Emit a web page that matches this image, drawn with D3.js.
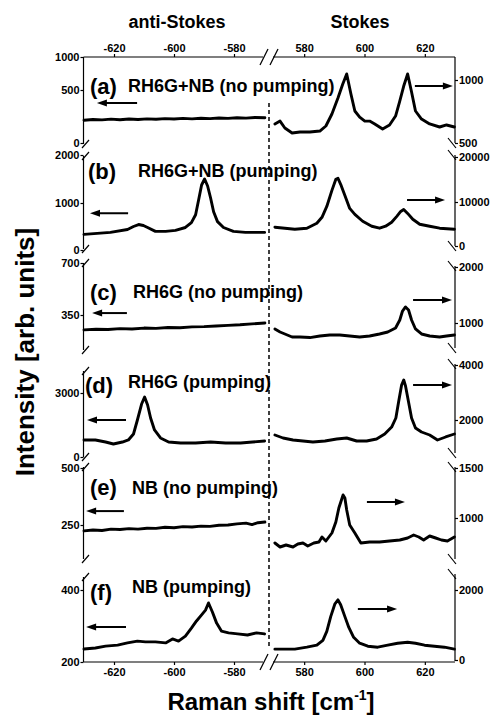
<!DOCTYPE html>
<html><head><meta charset="utf-8">
<script src="https://cdn.jsdelivr.net/npm/d3@7"></script>
<style>body{margin:0;background:#fff}svg{display:block}</style>
</head><body>
<svg id="chart" width="492" height="716"></svg>
<script>
// ---------------- data ----------------
const panelTags = ["(a)","(b)","(c)","(d)","(e)","(f)"];
const panelTitles = ["RH6G+NB (no pumping)","RH6G+NB (pumping)","RH6G (no pumping)","RH6G (pumping)","NB (no pumping)","NB (pumping)"];
const antiStokesTicks = [-620,-600,-580];
const stokesTicks = [580,600,620];
const leftTicks = [[0,500,1000],[0,1000,2000],[350,700],[0,3000],[250,500],[200,400]];
const rightTicks = [[500,1000],[0,10000,20000],[1000,2000],[2000,4000],[1000,1500],[0,2000]];

const antiA = [[-630,215],[-627,222],[-624,218],[-621,225],[-618,220],[-615,226],[-612,222],[-609,228],[-606,224],[-603,230],[-600,226],[-597,232],[-594,228],[-591,233],[-588,230],[-585,236],[-582,232],[-579,238],[-576,235],[-573,240],[-569.7,238]];
const stokesA = [[570.3,651],[572,674],[573.6,619],[576,579],[578.6,587],[581.9,587],[585.2,595],[587.2,635],[589.2,730],[591.2,857],[592.8,968],[594.1,1048],[595.5,889],[596.8,754],[598.4,706],[600.1,674],[601.7,674],[603.4,651],[606,611],[608.3,643],[610.3,714],[611.6,825],[613,952],[614.3,1048],[615.6,905],[616.9,754],[618.9,690],[621.6,651],[624.9,627],[627.2,643],[629.8,627]];

const antiB = [[-630,333],[-621.2,375],[-615.5,437],[-613.5,500],[-611.8,542],[-610.2,521],[-608.8,479],[-606.2,396],[-602.8,396],[-599.5,417],[-596.2,479],[-594.2,583],[-592.8,750],[-591.8,1063],[-590.8,1375],[-589.8,1500],[-588.8,1354],[-587.8,1104],[-586.8,813],[-585.5,604],[-583.5,479],[-580.2,396],[-576.2,375],[-572.8,375],[-569.8,375]];
const stokesB = [[570.3,4270],[573.6,4045],[576.9,3820],[580.9,4045],[584.2,5170],[585.9,6520],[587.5,8990],[589.2,12580],[590.5,15050],[591.2,15280],[592.1,13930],[593.5,11460],[595.1,8540],[596.8,7190],[599.4,5620],[602.4,4490],[605,4045],[607,4490],[609,5390],[610.7,6740],[612,7860],[613,8310],[614.3,7410],[616,6070],[618.3,4940],[621.6,4490],[624.9,4045],[629.8,3820]];

const antiC = [[-630,250],[-626,254],[-622,252],[-618,258],[-614,256],[-610,262],[-606,260],[-602,266],[-598,264],[-594,270],[-590,272],[-586,276],[-582,280],[-578,284],[-574,290],[-569.7,296]];
const stokesC = [[570.3,893],[572,839],[573.6,804],[576,750],[578.6,750],[581.9,740],[585.2,768],[588.5,786],[591.8,786],[595.1,768],[598.4,750],[601.7,768],[605,804],[607.7,839],[610.3,911],[611.7,1054],[612.6,1214],[613.6,1286],[614.6,1232],[615.6,1054],[616.9,893],[618.9,804],[621.6,768],[624.9,750],[627.2,768],[629.8,786]];

const antiD = [[-630,797],[-626.2,797],[-622.8,703],[-620.2,609],[-617.2,703],[-615.2,797],[-613.5,1078],[-612.2,1734],[-610.8,2484],[-609.8,2813],[-608.8,2438],[-607.8,1828],[-606.5,1266],[-604.5,891],[-601.8,703],[-597.8,656],[-592.8,656],[-587.8,703],[-582.8,656],[-577.8,656],[-573.8,703],[-569.8,750]];
const stokesD = [[570.3,1455],[573,1345],[576.3,1273],[579.6,1236],[582.9,1200],[586.9,1236],[590.8,1309],[594.1,1345],[597.4,1236],[600.7,1236],[604,1309],[606.7,1491],[609,1745],[610.4,2073],[611.3,2655],[612.3,3273],[613,3455],[613.6,3236],[614.6,2655],[615.6,2073],[616.9,1709],[618.9,1564],[621.6,1455],[624.2,1273],[626.9,1382],[629.8,1491]];

const antiE = [[-630,224],[-627,228],[-624,226],[-621,232],[-618,230],[-615,234],[-612,232],[-609,236],[-606,235],[-603,240],[-600,238],[-597,243],[-594,241],[-591,245],[-588,244],[-585,249],[-582,250],[-579,255],[-576,258],[-574,252],[-572,260],[-569.7,263]];
const stokesE = [[570.3,750],[572,710],[574,730],[576.3,710],[577.9,740],[579.6,750],[581.2,720],[583.2,750],[584.9,760],[585.9,810],[587.2,770],[589.2,850],[590.5,960],[591.5,1100],[592.9,1230],[593.5,1200],[594.1,1080],[595.1,930],[596.8,850],[598.8,750],[601.7,760],[605,760],[608.3,770],[611.7,780],[614.3,800],[616.3,830],[618,810],[619.6,780],[621.6,820],[623.6,800],[625.5,780],[627.5,770],[629.8,810]];

const antiF = [[-630,236],[-626.2,239],[-622.8,244],[-618.8,247],[-615.5,253],[-612.2,258],[-609.5,256],[-606.2,256],[-602.8,253],[-600.5,264],[-598.5,258],[-596.2,272],[-594.2,294],[-592.5,314],[-590.8,331],[-589.5,344],[-588.5,364],[-587.2,339],[-585.8,308],[-584.2,286],[-581.8,281],[-578.8,278],[-575.5,275],[-572.5,281],[-569.8,278]];
const stokesF = [[570.3,310],[573.6,310],[576.9,310],[580.9,366],[584.2,423],[586.2,563],[587.5,817],[588.8,1239],[590.2,1606],[591.2,1718],[592.1,1577],[593.5,1239],[594.8,930],[596.4,648],[598.4,479],[601.1,394],[604.4,366],[607.7,423],[611,479],[614.3,507],[616.9,479],[619.9,423],[623.2,394],[626.5,366],[629.8,310]];

const antiStokesSeries = [antiA,antiB,antiC,antiD,antiE,antiF];
const stokesSeries = [stokesA,stokesB,stokesC,stokesD,stokesE,stokesF];

// arrows (data units): [x0, x1, y]
const leftArrows = [[-625.7,-612.3,377],[-628,-615.3,783],[-627.3,-615.7,363],[-629,-616,1734],[-629.3,-616.7,311],[-629.3,-616,297]];
const rightArrows = [[616.7,629.3,952],[614.1,626.7,10444],[616.1,629,1411],[616.1,629,3273],[600.8,613.4,1160],[597.8,610.8,1457]];

// ---------------- layout ----------------
const FONT = '"Liberation Sans", Arial, Helvetica, sans-serif';
const frameTop = 57, frameBottom = 662, axisLX = 83.5, axisRX = 455;
const leftTickPx = [[143,90,57],[250,203,155],[315,263],[457,393],[525,468],[662,590]];
const rightTickPx = [[143,80],[246,202,157],[323,267],[420,365],[518,468],[660,590]];
const leftExtent = [[57,144],[156,249],[263,350],[371,457],[467,559],[577,662]];
const rightExtent = [[57,143],[155,246],[266,348],[364,453],[467,559],[574,661]];
const tagPos = [[90,94],[88,179],[90,300],[85,393],[90,495],[90,600]];
const titlePos = [[128,92],[138,177],[133,298],[128,388],[132,494],[132,593]];

const svg = d3.select("#chart");
const xL = d3.scaleLinear().domain([-630,-570]).range([84,264]);
const xR = d3.scaleLinear().domain([570,630]).range([274,455]);

function styleAxis(g){
  g.select(".domain").remove();
  g.selectAll("line").attr("stroke","#000").attr("stroke-width",1.2);
  g.selectAll("text").attr("font-family",FONT).attr("font-weight","bold").attr("font-size",11).attr("fill","#000");
}
const fmt = d => String(d);

// x axes
svg.append("g").attr("transform",`translate(0,${frameTop})`).call(d3.axisTop(xL).tickValues(antiStokesTicks).tickSize(3).tickPadding(2).tickFormat(fmt)).call(styleAxis);
svg.append("g").attr("transform",`translate(0,${frameTop})`).call(d3.axisTop(xR).tickValues(stokesTicks).tickSize(3).tickPadding(2).tickFormat(fmt)).call(styleAxis);
svg.append("g").attr("transform",`translate(0,${frameBottom})`).call(d3.axisBottom(xL).tickValues(antiStokesTicks).tickSize(3).tickPadding(3).tickFormat(fmt)).call(styleAxis);
svg.append("g").attr("transform",`translate(0,${frameBottom})`).call(d3.axisBottom(xR).tickValues(stokesTicks).tickSize(3).tickPadding(3).tickFormat(fmt)).call(styleAxis);

const ln = (x1,y1,x2,y2,w) => svg.append("line").attr("x1",x1).attr("y1",y1).attr("x2",x2).attr("y2",y2).attr("stroke","#000").attr("stroke-width",w||1.2);
[frameTop, frameBottom].forEach(y => {
  ln(axisLX, y, xL.range()[1]-1, y);
  ln(xR.range()[0]-1, y, axisRX, y);
  [264, 274].forEach(cx => ln(cx-4, y+8, cx+4, y-8, 1.3));
});

// dashed separator
ln(269, 103, 269, 646, 1.5).attr("stroke-dasharray","4,3");

const line = d3.line();

panelTags.forEach((tag, i) => {
  const yLs = d3.scaleLinear().domain(leftTicks[i]).range(leftTickPx[i]);
  const yRs = d3.scaleLinear().domain(rightTicks[i]).range(rightTickPx[i]);

  svg.append("g").attr("transform",`translate(${axisLX},0)`).call(d3.axisLeft(yLs).tickValues(leftTicks[i]).tickSize(3).tickPadding(1).tickFormat(fmt)).call(styleAxis);
  svg.append("g").attr("transform",`translate(${axisRX},0)`).call(d3.axisRight(yRs).tickValues(rightTicks[i]).tickSize(3).tickPadding(1).tickFormat(fmt)).call(styleAxis);

  // axis segments with break marks
  const [lt, lb] = leftExtent[i];
  ln(axisLX, lt, axisLX, lb);
  if (i > 0) ln(axisLX-1.5, lt+4, axisLX+5.5, lt-4, 1.2);
  if (i < 5) ln(axisLX-1.5, lb+4, axisLX+5.5, lb-4, 1.2);
  const [rt, rb] = rightExtent[i];
  ln(axisRX, rt, axisRX, rb);
  if (i > 0) ln(axisRX-7, rt-5, axisRX+1, rt+5, 1.2);
  if (i < 5) ln(axisRX-7, rb-5, axisRX+1, rb+5, 1.2);

  // data
  svg.append("path").datum(antiStokesSeries[i]).attr("fill","none").attr("stroke","#000").attr("stroke-width",2.9).attr("stroke-linejoin","round").attr("stroke-linecap","round")
    .attr("d", line.x(d => xL(d[0])).y(d => yLs(d[1])));
  svg.append("path").datum(stokesSeries[i]).attr("fill","none").attr("stroke","#000").attr("stroke-width",2.9).attr("stroke-linejoin","round").attr("stroke-linecap","round")
    .attr("d", line.x(d => xR(d[0])).y(d => yRs(d[1])));

  // arrows
  const la = leftArrows[i], ra = rightArrows[i];
  const drawArrow = (tip, tail, y, dir) => {
    ln(tail, y, tip - dir*6, y, 2);
    svg.append("path").attr("d",`M${tip},${y}L${tip-dir*10},${y-3.5}L${tip-dir*10},${y+3.5}Z`).attr("fill","#000");
  };
  drawArrow(xL(la[0]), xL(la[1]), yLs(la[2]), -1);
  drawArrow(xR(ra[1]), xR(ra[0]), yRs(ra[2]), 1);

  // labels
  svg.append("text").attr("x",tagPos[i][0]).attr("y",tagPos[i][1]).attr("font-family",FONT).attr("font-weight","bold").attr("font-size",22).text(tag);
  svg.append("text").attr("x",titlePos[i][0]).attr("y",titlePos[i][1]).attr("font-family",FONT).attr("font-weight","bold").attr("font-size",18).text(panelTitles[i]);
});

// titles
svg.append("text").attr("x",177).attr("y",28).attr("text-anchor","middle").attr("font-family",FONT).attr("font-weight","bold").attr("font-size",18).text("anti-Stokes");
svg.append("text").attr("x",360).attr("y",28).attr("text-anchor","middle").attr("font-family",FONT).attr("font-weight","bold").attr("font-size",18).text("Stokes");

const xt = svg.append("text").attr("x",271).attr("y",710).attr("text-anchor","middle").attr("font-family",FONT).attr("font-weight","bold").attr("font-size",24);
xt.append("tspan").text("Raman shift [cm");
xt.append("tspan").attr("font-size",14).attr("dy",-10).text("-1");
xt.append("tspan").attr("dy",10).text("]");

svg.append("text").attr("transform","translate(34,352) rotate(-90)").attr("text-anchor","middle").attr("font-family",FONT).attr("font-weight","bold").attr("font-size",26).text("Intensity [arb. units]");
</script>
</body></html>
